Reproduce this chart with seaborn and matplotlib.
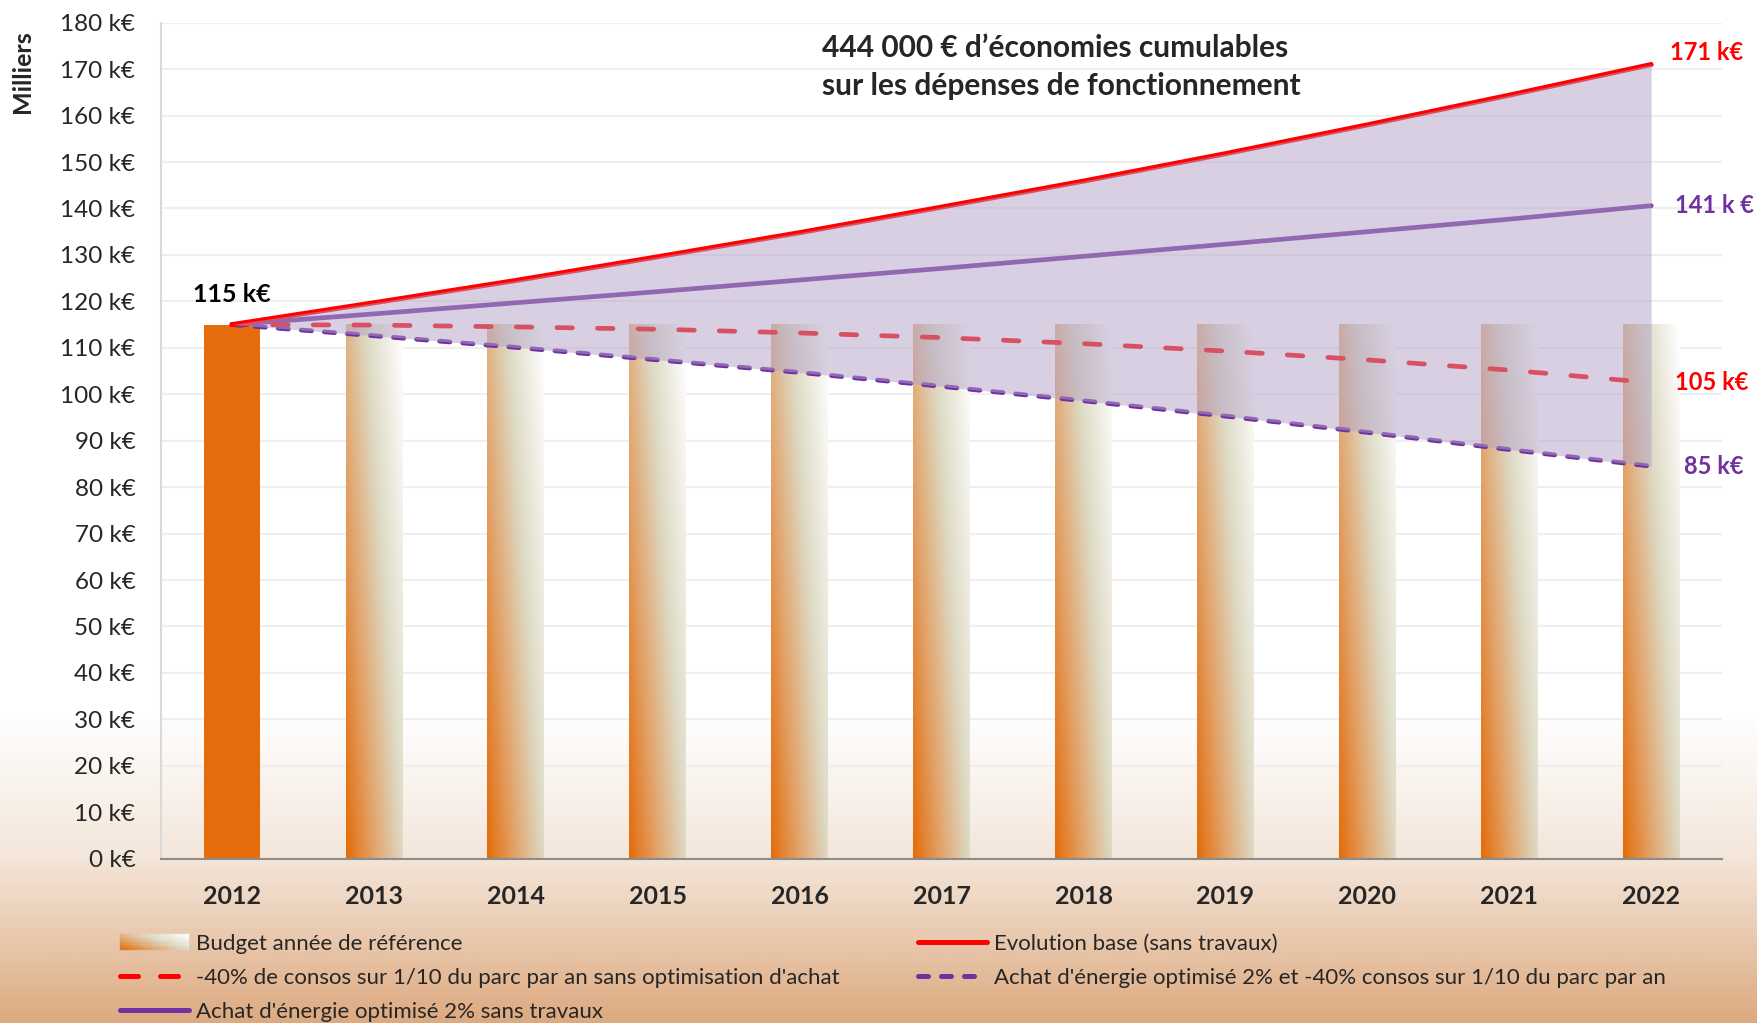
import numpy as np
import seaborn as sns
import matplotlib.pyplot as plt
from matplotlib.colors import LinearSegmentedColormap
from matplotlib.legend_handler import HandlerBase
from matplotlib.lines import Line2D
from matplotlib.patches import Rectangle

# data
years = ['2012', '2013', '2014', '2015', '2016', '2017', '2018', '2019', '2020', '2021', '2022']
budget = [115] * 11
base = [115, 119.7, 124.5, 129.6, 134.8, 140.3, 145.9, 151.8, 158.0, 164.4, 171.0]
optim = [115, 117.3, 119.7, 122.1, 124.6, 127.1, 129.7, 132.3, 135.0, 137.7, 140.6]
travaux = [115, 114.9, 114.5, 114.0, 113.2, 112.2, 110.9, 109.3, 107.4, 105.2, 102.5]
combine = [115, 112.6, 110.1, 107.4, 104.7, 101.7, 98.6, 95.3, 91.8, 88.1, 84.5]
end_labels = ['171 k€', '141 k €', '105 k€', '85 k€']
yticks = list(range(0, 181, 10))

RED = '#FF0000'
PURPLE = '#7030A0'
ORANGE = '#E46C0A'

sns.set_theme(style='white')
plt.rcParams['font.family'] = ['Lato', 'DejaVu Sans']

bar_cmap = LinearSegmentedColormap.from_list(
    'bar', [(0, ORANGE), (0.3, '#E2A36A'), (0.6, '#DDD9C3'), (1, '#FFFFFF')])
bg_cmap = LinearSegmentedColormap.from_list(
    'bg', [(0, '#FFFFFF'), (0.70, '#FFFFFF'), (0.84, '#F4E6DA'), (1, '#DDAA80')])

fig = plt.figure(figsize=(17.58, 10.23), dpi=100)

# page background gradient
bg = fig.add_axes([0, 0, 1, 1], zorder=-10)
bg.imshow(np.linspace(0, 1, 512)[:, None], cmap=bg_cmap, aspect='auto',
          extent=[0, 1, 0, 1], origin='upper')
bg.axis('off')

ax = fig.add_axes([0.0916, 0.1606, 0.888, 0.8172])
ax.set_facecolor('none')
pos = np.arange(len(years))

sns.barplot(x=years, y=budget, color=ORANGE, width=0.4, saturation=1, linewidth=0, ax=ax)

# gradient fill for every bar but the reference year
xf = np.linspace(0, 1, 60)
yf = np.linspace(0, 1, 200)
grad = 0.6 * xf[None, :] + 0.4 * yf[:, None]
for p in ax.patches[1:]:
    x0, y0 = p.get_x(), p.get_y()
    x1, y1 = x0 + p.get_width(), y0 + p.get_height()
    p.set_facecolor('none')
    ax.imshow(grad, cmap=bar_cmap, vmin=0, vmax=1, extent=[x0, x1, y0, y1],
              origin='lower', aspect='auto', zorder=1)

sns.lineplot(x=pos, y=optim, color=PURPLE, lw=3.4, ax=ax, zorder=3)
sns.lineplot(x=pos, y=travaux, color=RED, lw=3.4, ax=ax, zorder=3)
ax.lines[-1].set_dashes((3.3, 5.3))
sns.lineplot(x=pos, y=combine, color=PURPLE, lw=3.4, ax=ax, zorder=3)
ax.lines[-1].set_dashes((2.2, 2.7))
sns.lineplot(x=pos, y=base, color=RED, lw=3.6, ax=ax, zorder=3)
for ln in ax.lines:
    ln.set_dash_capstyle('round')
    ln.set_solid_capstyle('round')

ax.fill_between(pos, combine, base, facecolor='#B3A2C7', alpha=0.5, lw=0, zorder=4)

ax.set_xlim(-0.5, 10.5)
ax.set_ylim(0, 180)
ax.set_yticks(yticks, [f'{v} k€' for v in yticks])
ax.set_xticks(pos, years)
ax.set_xticks(np.arange(-0.5, 11, 1), minor=True)
ax.set_xlabel('')
ax.set_ylabel('')
ax.grid(axis='y', color='#EFEFEF', lw=1.5)
ax.set_axisbelow(True)
ax.tick_params(axis='y', length=6.5, width=1.5, color='#D9D9D9', pad=12, labelsize=17.5)
ax.tick_params(axis='x', which='major', length=0, pad=19, labelsize=18)
ax.tick_params(axis='x', which='minor', length=6, width=1.5, color='#8C8C8C')
for lab in ax.get_xticklabels():
    lab.set_fontweight('bold')
for s in ['top', 'right']:
    ax.spines[s].set_visible(False)
ax.spines['left'].set_color('#D9D9D9')
ax.spines['left'].set_linewidth(1.5)
ax.spines['bottom'].set_color('#8C8C8C')
ax.spines['bottom'].set_linewidth(1.5)

# annotations
ax.text(0, budget[0] + 6.5, f'{budget[0]} k€', ha='center', va='center',
        fontsize=18, fontweight='bold', color='black')
ax.text(10.13, base[-1] + 2.5, end_labels[0], color=RED, fontsize=17, fontweight='bold', va='center')
ax.text(10.17, optim[-1], end_labels[1], color=PURPLE, fontsize=17, fontweight='bold', va='center')
ax.text(10.17, travaux[-1], end_labels[2], color=RED, fontsize=17, fontweight='bold', va='center')
ax.text(10.23, combine[-1], end_labels[3], color=PURPLE, fontsize=17, fontweight='bold', va='center')

fig.text(822 / 1758, 1 - 67 / 1023,
         '444 000 € d’économies cumulables\nsur les dépenses de fonctionnement',
         ha='left', va='center', fontsize=21.5, fontweight='bold', linespacing=1.42)
fig.text(23 / 1758, 1 - 72 / 1023, 'Milliers', rotation=90, ha='center', va='center',
         fontsize=18, fontweight='bold')


class GradientHandler(HandlerBase):
    def create_artists(self, legend, orig_handle, xdescent, ydescent, width, height, fontsize, trans):
        arts = []
        n_x, n_y = 24, 6
        for i in range(n_x):
            for j in range(n_y):
                t = 0.6 * (i + 0.5) / n_x + 0.4 * (j + 0.5) / n_y
                c = bar_cmap(t)
                arts.append(Rectangle((-xdescent + i * width / n_x, -ydescent + j * height / n_y),
                                      width / n_x, height / n_y, facecolor=c, edgecolor=c,
                                      lw=0.3, transform=trans))
        return arts


grad_proxy = Rectangle((0, 0), 1, 1)
h_travaux = Line2D([], [], color=RED, lw=3.6, dashes=(3.6, 4.4), dash_capstyle='round')
h_optim = Line2D([], [], color=PURPLE, lw=3.6, solid_capstyle='round')
h_base = Line2D([], [], color=RED, lw=3.6, solid_capstyle='round')
h_combine = Line2D([], [], color=PURPLE, lw=3.6, dashes=(2.0, 2.6), dash_capstyle='round')

leg_kw = dict(loc='upper left', frameon=False, fontsize=16, borderpad=0, borderaxespad=0,
              handlelength=3.1, handletextpad=0.33, labelspacing=0.62)
fig.legend([grad_proxy, h_travaux, h_optim],
           ['Budget année de référence',
            "-40% de consos sur 1/10 du parc par an sans optimisation d'achat",
            "Achat d'énergie optimisé 2% sans travaux"],
           handler_map={Rectangle: GradientHandler()},
           bbox_to_anchor=(120 / 1758, 1 - 934 / 1023), **leg_kw)
fig.legend([h_base, h_combine],
           ['Evolution base (sans travaux)',
            "Achat d'énergie optimisé 2% et -40% consos sur 1/10 du parc par an"],
           bbox_to_anchor=(918 / 1758, 1 - 934 / 1023), **leg_kw)

plt.savefig('out.png', dpi=100)
plt.close()
